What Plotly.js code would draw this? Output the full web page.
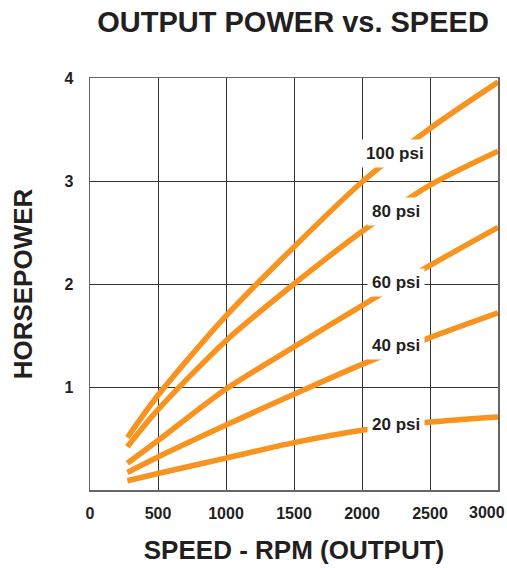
<!DOCTYPE html>
<html>
<head>
<meta charset="utf-8">
<script src="https://cdn.plot.ly/plotly-3.0.1.min.js"></script>
<style>html,body{margin:0;padding:0;background:#fff;}#chart{width:507px;height:568px;}</style>
</head>
<body>
<div id="chart"></div>
<script>
const speed = [275, 500, 1000, 1500, 2000, 2500, 3000];
const hp100 = [0.51, 0.92, 1.69, 2.36, 2.99, 3.51, 3.96];
const hp80  = [0.42, 0.78, 1.45, 2.00, 2.51, 2.96, 3.29];
const hp60  = [0.26, 0.48, 0.98, 1.39, 1.79, 2.18, 2.55];
const hp40  = [0.17, 0.32, 0.63, 0.93, 1.22, 1.48, 1.72];
const hp20  = [0.09, 0.16, 0.31, 0.46, 0.58, 0.66, 0.71];
const seriesNames = ["100 psi", "80 psi", "60 psi", "40 psi", "20 psi"];
const seriesData = [hp100, hp80, hp60, hp40, hp20];
const labelX = [2245, 2250, 2250, 2250, 2250];
const labelY = [3.27, 2.70, 2.01, 1.40, 0.64];
const xTicks = [0, 500, 1000, 1500, 2000, 2500, 3000];
const xTickText = ["0", "500", "1000", "1500", "2000", "2500", "3000"];
const yTicks = [1, 2, 3, 4];

const orange = "#F7931E";
const ink = "#231F20";
const font = "Liberation Sans, Arial, sans-serif";

const traces = seriesData.map((ys, i) => ({
  x: speed, y: ys, name: seriesNames[i], type: "scatter", mode: "lines",
  line: {color: orange, width: 5.5, shape: "spline", smoothing: 0.8},
  hoverinfo: "skip", showlegend: false
}));

const annotations = seriesNames.map((n, i) => ({
  x: labelX[i], y: labelY[i], xref: "x", yref: "y", text: "<b>" + n + "</b>",
  showarrow: false, bgcolor: "#ffffff", borderpad: 4,
  font: {family: font, size: 17, color: ink}
}));
// last x tick label kept inside the page edge, as in the reference
const lastTick = xTicks.length - 1;
annotations.push({
  x: xTicks[lastTick], y: 0, xref: "x", yref: "y", text: "<b>" + xTickText[lastTick] + "</b>",
  showarrow: false, xanchor: "right", yanchor: "top", xshift: 9, yshift: -12,
  font: {family: font, size: 16, color: ink}
});

const layout = {
  width: 507, height: 568,
  margin: {l: 90, r: 9, t: 78, b: 78},
  paper_bgcolor: "#ffffff", plot_bgcolor: "#ffffff",
  title: {text: "<b>OUTPUT POWER vs. SPEED</b>", x: 0.578, xanchor: "center", y: 0.962, yanchor: "middle",
          font: {family: font, size: 29, color: ink}},
  xaxis: {range: [0, 3000], tickvals: xTicks,
          ticktext: xTickText.map((v, i) => i === lastTick ? "" : "<b>" + v + "</b>"),
          showgrid: true, gridcolor: "#333333", gridwidth: 1, zeroline: false,
          showline: true, linecolor: "#666666", linewidth: 1.5, mirror: true, ticks: "",
          ticklabelstandoff: 8,
          tickfont: {family: font, size: 16, color: ink},
          title: {text: "<b>SPEED - RPM (OUTPUT)</b>", standoff: 20, font: {family: font, size: 26, color: ink}}},
  yaxis: {range: [0, 4], tickvals: yTicks, ticktext: yTicks.map(v => "<b>" + v + "</b>"),
          showgrid: true, gridcolor: "#333333", gridwidth: 1, zeroline: false,
          showline: true, linecolor: "#666666", linewidth: 1.5, mirror: true, ticks: "",
          ticklabelstandoff: 12,
          tickfont: {family: font, size: 16, color: ink},
          title: {text: "<b>HORSEPOWER</b>", standoff: 24, font: {family: font, size: 26, color: ink}}},
  annotations: annotations
};

Plotly.newPlot("chart", traces, layout, {displayModeBar: false, staticPlot: true});
</script>
</body>
</html>
